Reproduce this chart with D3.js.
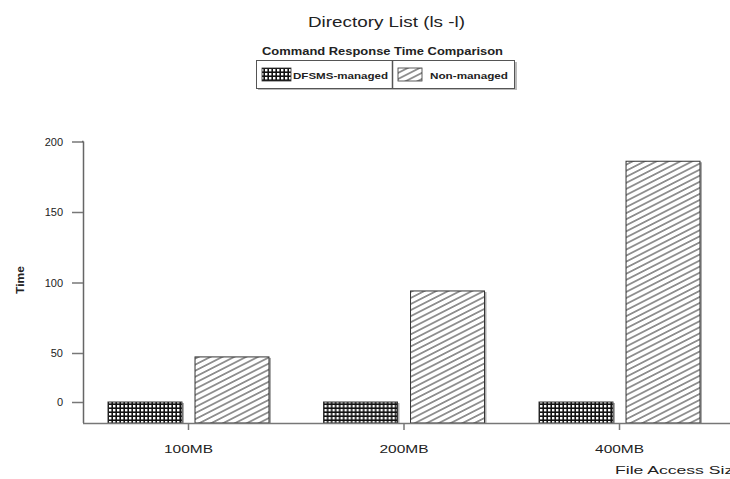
<!DOCTYPE html>
<html lang="en">
<head>
<meta charset="UTF-8">
<script src="https://cdn.jsdelivr.net/npm/d3@7/dist/d3.min.js"></script>
<style>
    body { margin: 0; background: #fff; }
    svg { display: block; }
    text { font-family: "Liberation Sans", Arial, sans-serif; fill: #222; }
    .title { font-size: 15px; }
    .subtitle { font-size: 10.5px; font-weight: bold; }
    .legend text { font-size: 9.5px; font-weight: bold; }
    .axis-label { font-size: 11px; font-weight: bold; }
    .tick-label { font-size: 11px; }
</style>
</head>
<body>
<script>
    // Chart data
    var categories = ["100MB", "200MB", "400MB"];
    var seriesNames = ["DFSMS-managed", "Non-managed"];
    var dfsmsManaged = [0, 0, 0];
    var nonManaged = [46, 94, 186];
    var yTicks = [0, 50, 100, 150, 200];

    var width = 730, height = 479;

    var svg = d3.select("body").append("svg")
        .attr("width", width)
        .attr("height", height);

    /* Fill patterns */
    var defs = svg.append("defs");
    var checker = defs.append("pattern")
        .attr("id", "checker")
        .attr("patternUnits", "userSpaceOnUse")
        .attr("width", 4).attr("height", 4);
    checker.append("rect").attr("width", 4).attr("height", 4).attr("fill", "#111");
    checker.append("rect").attr("x", 1).attr("y", 1).attr("width", 2.4).attr("height", 2.4).attr("fill", "#fff");

    var hatch = defs.append("pattern")
        .attr("id", "hatch")
        .attr("patternUnits", "userSpaceOnUse")
        .attr("width", 10).attr("height", 5.4)
        .attr("patternTransform", "rotate(-27)");
    hatch.append("rect").attr("width", 10).attr("height", 5.4).attr("fill", "#fff");
    hatch.append("line").attr("x1", 0).attr("x2", 10).attr("y1", 2.7).attr("y2", 2.7)
        .attr("stroke", "#333").attr("stroke-width", 1);

    var fills = ["url(#checker)", "url(#hatch)"];

    /* Scales: the y axis of the original is not linear below 50 */
    var plotLeft = 83, plotRight = 725, plotTop = 141.5, baseY = 423;
    var y = d3.scaleLinear()
        .domain([-22, 0, 50, 200])
        .range([baseY, 402, 353, plotTop]);

    var x0 = d3.scaleBand()
        .domain(categories)
        .range([plotLeft, plotRight])
        .paddingInner(0.253)
        .paddingOuter(0.116);

    var x1 = d3.scaleBand()
        .domain(seriesNames)
        .range([0, x0.bandwidth()])
        .paddingInner(0.15);

    var rows = categories.map(function(c, i) {
        return { cat: c, values: [dfsmsManaged[i], nonManaged[i]] };
    });

    /* Title */
    svg.append("text").attr("class", "title")
        .attr("x", 386.5).attr("y", 27)
        .attr("text-anchor", "middle")
        .attr("textLength", 157).attr("lengthAdjust", "spacingAndGlyphs")
        .text("Directory List (ls -l)");

    svg.append("text").attr("class", "subtitle")
        .attr("x", 382.5).attr("y", 55)
        .attr("text-anchor", "middle")
        .attr("textLength", 241).attr("lengthAdjust", "spacingAndGlyphs")
        .text("Command Response  Time Comparison");

    /* Legend */
    var legend = svg.append("g").attr("class", "legend");
    legend.append("rect")
        .attr("x", 258).attr("y", 62).attr("width", 259).attr("height", 28)
        .attr("fill", "#bbb");
    legend.append("rect")
        .attr("x", 256.5).attr("y", 60.5).attr("width", 258).attr("height", 28)
        .attr("fill", "#fff").attr("stroke", "#555").attr("stroke-width", 1);
    legend.append("line")
        .attr("x1", 392.5).attr("x2", 392.5).attr("y1", 60.5).attr("y2", 88.5)
        .attr("stroke", "#555").attr("stroke-width", 1.5);

    var legendItems = [
        { sw: 262, tx: 293, tw: 95 },
        { sw: 398, tx: 430, tw: 78 }
    ];
    legend.selectAll(".item").data(seriesNames).enter().append("g")
        .attr("class", "item")
        .each(function(d, i) {
            var g = d3.select(this), it = legendItems[i];
            g.append("rect")
                .attr("x", it.sw).attr("y", 68).attr("width", i ? 24 : 29).attr("height", 13)
                .attr("fill", fills[i]).attr("stroke", "#333").attr("stroke-width", 0.8);
            g.append("text")
                .attr("x", it.tx).attr("y", 79)
                .attr("textLength", it.tw).attr("lengthAdjust", "spacingAndGlyphs")
                .text(d);
        });

    /* Bars */
    var groups = svg.selectAll(".grp").data(rows).enter().append("g")
        .attr("class", "grp")
        .attr("transform", function(d) { return "translate(" + x0(d.cat) + ",0)"; });

    var bars = groups.selectAll(".bar")
        .data(function(d) { return d.values.map(function(v, i) { return { s: seriesNames[i], v: v, i: i }; }); })
        .enter().append("g").attr("class", "bar");

    // right-edge shadow
    bars.append("line")
        .attr("x1", function(d) { return x1(d.s) + x1.bandwidth() + 1; })
        .attr("x2", function(d) { return x1(d.s) + x1.bandwidth() + 1; })
        .attr("y1", function(d) { return y(d.v) + 1; })
        .attr("y2", baseY)
        .attr("stroke", "#aaa").attr("stroke-width", 2);

    bars.append("rect")
        .attr("x", function(d) { return x1(d.s); })
        .attr("y", function(d) { return y(d.v); })
        .attr("width", x1.bandwidth())
        .attr("height", function(d) { return baseY - y(d.v); })
        .attr("fill", function(d) { return fills[d.i]; })
        .attr("stroke", "#333").attr("stroke-width", 1);

    /* Axes */
    var yAxis = svg.append("g")
        .attr("transform", "translate(" + plotLeft + ",0)")
        .call(d3.axisLeft(y).tickValues(yTicks).tickSize(11).tickPadding(8).tickSizeOuter(0));
    yAxis.select(".domain").attr("d", "M0.5," + plotTop + "V" + baseY).attr("stroke", "#666").attr("stroke-width", 1.5);
    yAxis.selectAll(".tick line").attr("stroke", "#777").attr("stroke-width", 1.5);
    yAxis.selectAll(".tick text").attr("class", "tick-label").attr("font-size", null).attr("font-family", null)
        .attr("x", -20).attr("fill", "#222");
    svg.append("line")
        .attr("x1", plotLeft - 1).attr("x2", plotLeft + 0.5).attr("y1", plotTop).attr("y2", plotTop)
        .attr("stroke", "#666").attr("stroke-width", 1.5);

    var xAxis = svg.append("g")
        .attr("transform", "translate(0," + baseY + ")")
        .call(d3.axisBottom(x0).tickSize(7).tickPadding(15).tickSizeOuter(0));
    xAxis.select(".domain").attr("d", "M" + plotLeft + ",0.5H" + width).attr("stroke", "#777").attr("stroke-width", 1.5);
    xAxis.selectAll(".tick line").attr("stroke", "#777").attr("stroke-width", 1.5);
    xAxis.selectAll(".tick text").attr("class", "tick-label").attr("font-size", null).attr("font-family", null)
        .attr("textLength", 49).attr("lengthAdjust", "spacingAndGlyphs").attr("fill", "#222");

    /* Axis titles */
    svg.append("text").attr("class", "axis-label")
        .attr("transform", "translate(24,280) rotate(-90)")
        .attr("text-anchor", "middle")
        .attr("textLength", 28).attr("lengthAdjust", "spacingAndGlyphs")
        .text("Time");

    svg.append("text").attr("class", "tick-label")
        .attr("x", 615).attr("y", 474)
        .attr("textLength", 128).attr("lengthAdjust", "spacingAndGlyphs")
        .text("File Access Size");
</script>
</body>
</html>
